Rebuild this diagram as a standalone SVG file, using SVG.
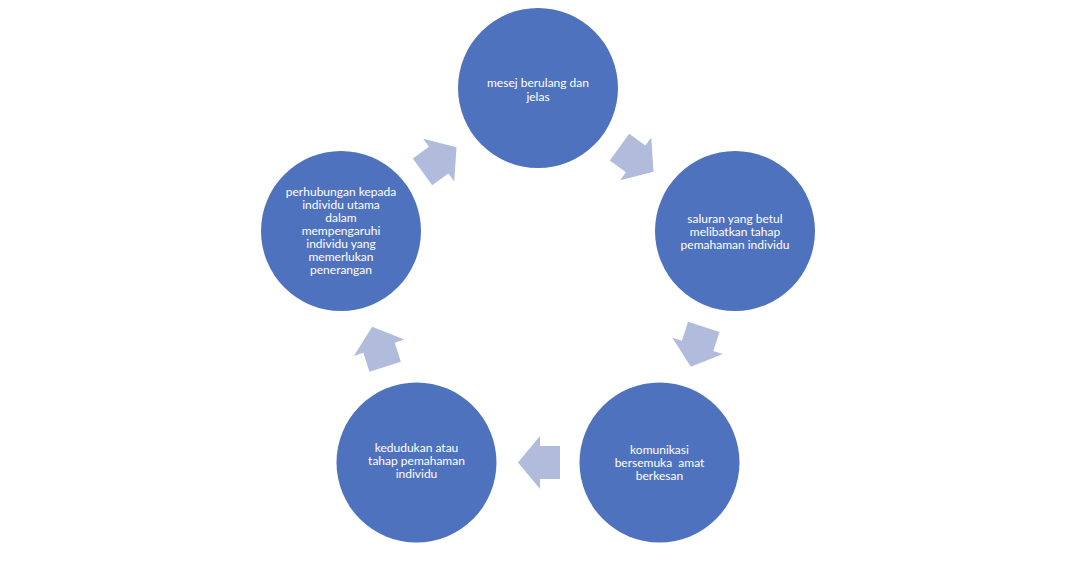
<svg xmlns="http://www.w3.org/2000/svg" width="1080" height="573" viewBox="0 0 1080 573">
<defs>
<style>
.node{fill:#4F72BE;}
.lbl{fill:#FFFFFF;font-family:Lato,"Open Sans","Liberation Sans",sans-serif;font-size:12px;text-anchor:middle;}
.arr{fill:#B1BBDC;}
</style>
<path id="arrow" d="M-21,-16.5 L-1,-16.5 L-1,-26.5 L21,0 L-1,26.5 L-1,16.5 L-21,16.5 Z"/>
</defs>
<rect width="1080" height="573" fill="#FFFFFF"/>
<g id="connectors">
<use href="#arrow" class="arr" transform="translate(636.5,159.5) rotate(36)"/>
<use href="#arrow" class="arr" transform="translate(697.3,346.8) rotate(108)"/>
<use href="#arrow" class="arr" transform="translate(539,462.5) rotate(180)"/>
<use href="#arrow" class="arr" transform="translate(378.7,346.8) rotate(252)"/>
<use href="#arrow" class="arr" transform="translate(439.5,159.5) rotate(324)"/>
</g>
<g id="node1">
<circle class="node" cx="538" cy="88" r="80"/>
<text class="lbl"><tspan x="538" y="87">mesej berulang dan</tspan><tspan x="538" y="101">jelas</tspan></text>
</g>
<g id="node2">
<circle class="node" cx="735" cy="231" r="80"/>
<text class="lbl"><tspan x="735" y="223">saluran yang betul</tspan><tspan x="735" y="236">melibatkan tahap</tspan><tspan x="735" y="249">pemahaman individu</tspan></text>
</g>
<g id="node3">
<circle class="node" cx="659.5" cy="462.5" r="80"/>
<text class="lbl"><tspan x="659.5" y="454">komunikasi</tspan><tspan x="659.5" y="467" xml:space="preserve">bersemuka  amat</tspan><tspan x="659.5" y="480">berkesan</tspan></text>
</g>
<g id="node4">
<circle class="node" cx="416.5" cy="462.5" r="80"/>
<text class="lbl"><tspan x="416.5" y="452">kedudukan atau</tspan><tspan x="416.5" y="465">tahap pemahaman</tspan><tspan x="416.5" y="478">individu</tspan></text>
</g>
<g id="node5">
<circle class="node" cx="341" cy="231" r="80"/>
<text class="lbl"><tspan x="341" y="196">perhubungan kepada</tspan><tspan x="341" y="209">individu utama</tspan><tspan x="341" y="222">dalam</tspan><tspan x="341" y="235">mempengaruhi</tspan><tspan x="341" y="248">individu yang</tspan><tspan x="341" y="261">memerlukan</tspan><tspan x="341" y="274">penerangan</tspan></text>
</g>
</svg>
